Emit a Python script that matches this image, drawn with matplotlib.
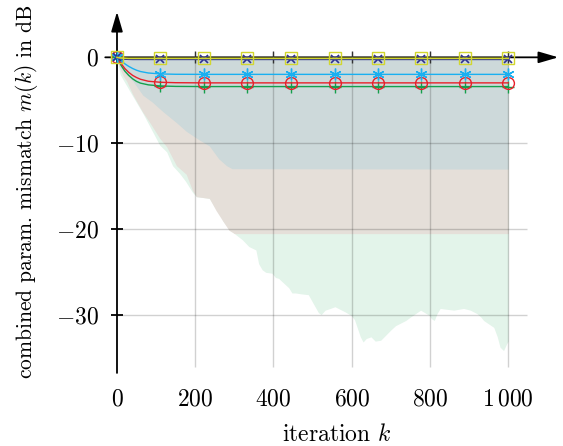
import numpy as np
import matplotlib.pyplot as plt

plt.rcParams['font.family'] = 'cmr10'
plt.rcParams['mathtext.fontset'] = 'cm'
plt.rcParams['axes.unicode_minus'] = False

# iteration index used for the mean curves (markers every ~111 iterations)
k = [0, 5, 10, 20, 30, 40, 50, 60, 80, 111, 150, 222, 333, 444, 556, 667, 778, 889, 1000]
mark_idx = [0, 9, 11, 12, 13, 14, 15, 16, 17, 18]

m_yellow = [0, -0.05, -0.08, -0.10, -0.12, -0.12, -0.12, -0.12, -0.12, -0.12, -0.12, -0.12,
            -0.12, -0.12, -0.12, -0.12, -0.12, -0.12, -0.12]
m_navy = [0, -0.10, -0.17, -0.22, -0.24, -0.25, -0.25, -0.25, -0.25, -0.25, -0.25, -0.25,
          -0.25, -0.25, -0.25, -0.25, -0.25, -0.25, -0.25]
m_cyan = [0, -0.20, -0.40, -0.75, -1.05, -1.30, -1.50, -1.65, -1.82, -1.93, -1.97, -1.98,
          -1.98, -1.98, -1.98, -1.98, -1.98, -1.98, -1.98]
m_red = [0, -0.35, -0.70, -1.30, -1.75, -2.10, -2.35, -2.55, -2.78, -2.90, -2.95, -2.97,
         -2.97, -2.97, -2.97, -2.97, -2.97, -2.97, -2.97]
m_green = [0, -0.45, -0.90, -1.60, -2.10, -2.50, -2.80, -3.00, -3.20, -3.33, -3.38, -3.40,
           -3.40, -3.40, -3.40, -3.40, -3.40, -3.40, -3.40]

# lower envelopes of the shaded ranges (upper edge is 0 dB)
k_gray = [0, 10, 41, 66, 90, 117, 152, 177, 210, 236, 260, 280, 294, 1000]
lo_gray = [0, -1.2, -2.8, -4.4, -5.2, -6.3, -7.6, -8.6, -9.6, -10.3, -11.8, -12.6, -12.95, -13.0]

k_beige = [0, 5, 15, 25, 40, 66, 84, 109, 127, 152, 177, 193, 203, 236, 253, 270, 286, 300, 1000]
lo_beige = [0, -1.0, -2.1, -2.8, -4.3, -6.4, -7.6, -9.4, -10.4, -12.6, -13.6, -15.5, -16.2, -16.4,
            -17.8, -19.0, -20.1, -20.5, -20.5]

k_green = [0, 4, 8, 40, 66, 109, 127, 142, 160, 175, 193, 203, 236, 250, 261, 270, 286, 294,
           303, 320, 337, 355, 362, 371, 380, 396, 405, 413, 420, 439, 447, 456, 470, 489, 500,
           515, 522, 532, 545, 557, 570, 583, 598, 607, 616, 622, 629, 637, 649, 660, 674, 687,
           700, 712, 725, 738, 750, 763, 776, 787, 798, 804, 811, 818, 826, 843, 861, 873, 886,
           903, 920, 930, 937, 950, 963, 972, 979, 988, 996, 1000]
lo_green = [0, -1.0, -2.0, -4.5, -6.5, -10.2, -11.0, -12.6, -13.5, -14.4, -15.7, -16.2, -16.4,
            -17.4, -17.8, -19.0, -19.9, -20.2, -20.6, -21.2, -22.0, -22.4, -24.0, -24.7, -25.0,
            -25.1, -25.6, -25.7, -26.0, -26.8, -27.4, -27.4, -27.5, -27.6, -28.5, -29.7, -29.9,
            -29.4, -29.2, -29.0, -29.3, -29.6, -30.0, -30.5, -31.7, -32.5, -33.1, -32.7, -32.5,
            -33.0, -32.9, -32.3, -31.7, -31.2, -30.9, -30.6, -30.2, -29.8, -29.4, -29.7, -30.0,
            -30.4, -30.6, -29.8, -29.2, -29.3, -29.4, -29.3, -29.2, -29.4, -29.8, -30.2, -30.6,
            -31.0, -31.4, -32.5, -33.7, -34.1, -33.3, -33.0]

xticks = [0, 200, 400, 600, 800, 1000]
xticklabels = ['$0$', '$200$', '$400$', '$600$', '$800$', '$1\\,000$']
yticks = [0, -10, -20, -30]
yticklabels = ['$0$', '$-10$', '$-20$', '$-30$']

fig = plt.figure(figsize=(5.63, 4.46), dpi=100)
ax = fig.add_axes([0.1953, 0.1484, 0.8047, 0.8291])
ax.set_xlim(-18, 1140)
ax.set_ylim(-37.5, 5.5)
for s in ax.spines.values():
    s.set_visible(False)

# shaded ranges
ax.fill_between(k_green, lo_green, 0, color='#e3f4ea', lw=0, zorder=1)
ax.fill_between(k_beige, lo_beige, 0, color='#e5dfd9', lw=0, zorder=1.1)
ax.fill_between(k_gray, lo_gray, 0, color='#cdd9da', lw=0, zorder=1.2)

# grid
ax.vlines(xticks[1:], -36.0, 0.6, color='k', alpha=0.18, lw=1.0, zorder=2)
ax.hlines(yticks[1:], 0, 1047, color='k', alpha=0.18, lw=1.0, zorder=2)

# axes with arrows
ax.annotate('', xy=(1128, 0), xytext=(-30, 0),
            arrowprops=dict(arrowstyle='-|>,head_length=1.2,head_width=0.35', lw=1.3,
                            color='k', shrinkA=0, shrinkB=0),
            annotation_clip=False, zorder=3)
ax.annotate('', xy=(0, 5.3), xytext=(0, -36.7),
            arrowprops=dict(arrowstyle='-|>,head_length=1.2,head_width=0.35', lw=1.3,
                            color='k', shrinkA=0, shrinkB=0),
            annotation_clip=False, zorder=3)
ax.plot(xticks[1:], [0] * 5, ls='none', marker='|', ms=9, mew=1.0, color='#333333',
        clip_on=False, zorder=3)
ax.plot([0] * 3, yticks[1:], ls='none', marker='_', ms=9, mew=1.3, color='k',
        clip_on=False, zorder=3)

# mean curves
ax.plot(k, m_green, color='#14a04c', lw=1.0, marker='+', ms=8, mew=1.0,
        markevery=mark_idx, clip_on=False, zorder=4)
ax.plot(k, m_red, color='#e8202a', lw=1.0, marker='o', ms=8.5, mfc='none', mew=1.0,
        markevery=mark_idx, clip_on=False, zorder=4)
ax.plot(k, m_cyan, color='#1ab0f0', lw=1.0, marker=(6, 2, 0), ms=8.5, mew=1.0,
        markevery=mark_idx, clip_on=False, zorder=4)
ax.plot(k, m_navy, color='#2e3192', lw=1.0, marker='x', ms=6, mew=1.2,
        markevery=mark_idx, clip_on=False, zorder=4)
ax.plot(k, m_yellow, color='#d2d62f', lw=1.2, marker='s', ms=8, mfc='none', mew=1.0,
        markevery=mark_idx, clip_on=False, zorder=4)

ax.set_xticks(xticks)
ax.set_xticklabels(xticklabels, fontsize=17)
ax.set_yticks(yticks)
ax.set_yticklabels(yticklabels, fontsize=17)
ax.tick_params(axis='x', length=0, pad=6)
ax.tick_params(axis='y', length=0, pad=8)
ax.set_xlabel('iteration $k$', fontsize=17, labelpad=10)
ax.set_ylabel('combined param. mismatch $m(k)$ in dB', fontsize=15.5)
ax.yaxis.set_label_coords(-0.155, 0.51)

fig.savefig('out.png', dpi=100)
